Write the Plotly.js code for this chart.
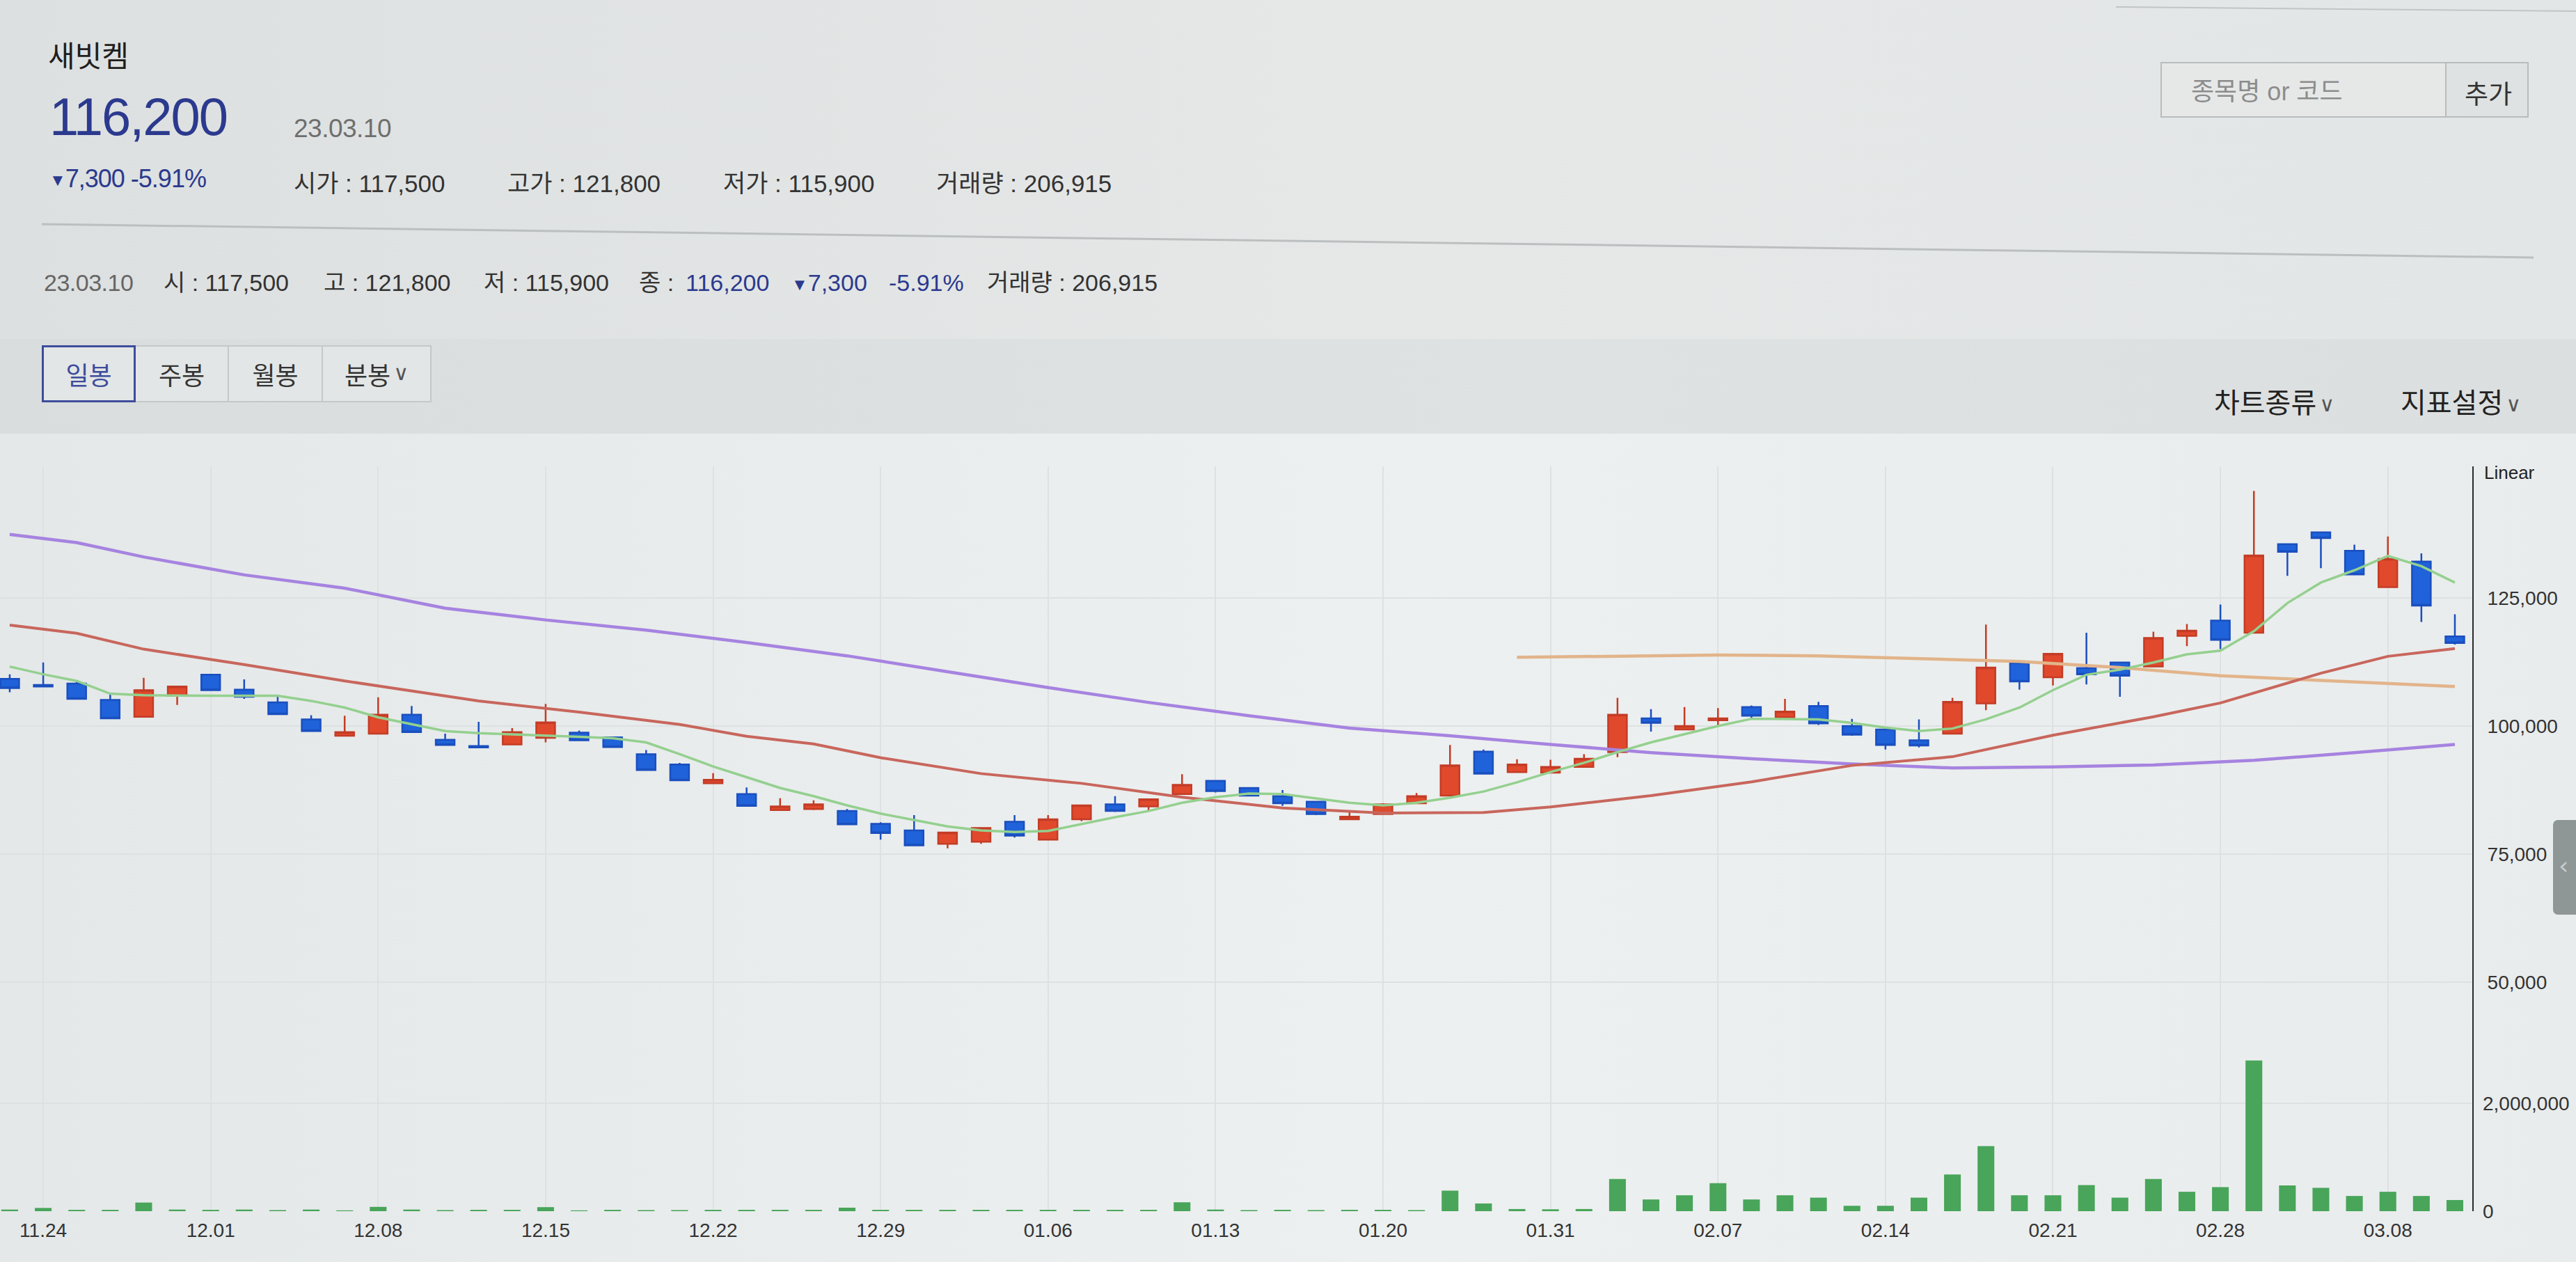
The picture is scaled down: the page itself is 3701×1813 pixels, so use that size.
<!DOCTYPE html>
<html><head><meta charset="utf-8">
<script src="https://cdn.plot.ly/plotly-3.0.1.min.js"></script>
<style>
html,body{margin:0;padding:0;width:3701px;height:1813px;overflow:hidden;
  background:linear-gradient(90deg,#dde0e0,#e6e8e8 55%,#e3e6e6);
  font-family:'Liberation Sans','Noto Sans CJK KR',sans-serif;}
.bg{position:absolute;}
.t{position:absolute;white-space:nowrap;line-height:1;}
.blue{color:#2b3a8e;}
.btn{position:absolute;top:496px;height:82px;display:flex;align-items:center;justify-content:center;
  font-size:36px;box-sizing:border-box;border:2px solid #c4c8c8;color:#333;background:#e3e6e6;font-family:'Noto Sans CJK KR',sans-serif;}
.sel{border:3px solid #3d4d9c;color:#3d4d9c;z-index:2;}
.chev{font-size:30px;margin-left:4px;font-family:'DejaVu Sans',sans-serif;color:#555;position:relative;top:-2px;}
</style></head><body>
<div class="bg" style="left:0;top:487px;width:3701px;height:136px;background:linear-gradient(90deg,#d9dddd,#dfe2e2 60%,#dcdfdf);"></div>
<div class="bg" style="left:0;top:623px;width:3701px;height:1190px;background:linear-gradient(90deg,#e4e8e8,#edf0f0 55%,#e9ecec);"></div>
<div id="chart" style="position:absolute;left:0;top:0;width:3701px;height:1813px;"></div>
<svg style="position:absolute;left:0;top:0;" width="3701" height="1813">
  <line x1="60" y1="322" x2="3640" y2="370" stroke="#bcbfbf" stroke-width="3"/>
  <line x1="3040" y1="10" x2="3701" y2="16" stroke="#c2c5c5" stroke-width="2"/>
</svg>

<div class="t" style="left:69px;top:57px;font-size:42px;color:#1e1e1e;font-family:'Noto Sans CJK KR';">새빗켐</div>
<div class="t blue" style="left:71px;top:130px;font-size:76px;letter-spacing:-2px;">116,200</div>
<div class="t" style="left:422px;top:166px;font-size:37px;color:#6f6f6f;letter-spacing:-0.5px;">23.03.10</div>
<div class="t blue" style="left:71px;top:239px;font-size:36px;letter-spacing:-1px;"><span style="font-size:24px;vertical-align:middle;">▼</span>7,300 -5.91%</div>
<div class="t" style="left:422px;top:246px;font-size:35px;color:#333;">시가 : 117,500</div>
<div class="t" style="left:729px;top:246px;font-size:35px;color:#333;">고가 : 121,800</div>
<div class="t" style="left:1039px;top:246px;font-size:35px;color:#333;">저가 : 115,900</div>
<div class="t" style="left:1345px;top:246px;font-size:35px;color:#333;">거래량 : 206,915</div>

<div class="t" style="left:63px;top:389px;font-size:34px;color:#666;letter-spacing:-0.5px;">23.03.10</div>
<div class="t" style="left:235px;top:389px;font-size:34px;color:#333;">시 : 117,500</div>
<div class="t" style="left:465px;top:389px;font-size:34px;color:#333;">고 : 121,800</div>
<div class="t" style="left:695px;top:389px;font-size:34px;color:#333;">저 : 115,900</div>
<div class="t" style="left:918px;top:389px;font-size:34px;color:#333;">종 :</div>
<div class="t blue" style="left:985px;top:389px;font-size:34px;">116,200</div>
<div class="t blue" style="left:1137px;top:389px;font-size:34px;"><span style="font-size:24px;vertical-align:middle;">▼</span>7,300</div>
<div class="t blue" style="left:1277px;top:389px;font-size:34px;">-5.91%</div>
<div class="t" style="left:1418px;top:389px;font-size:34px;color:#333;">거래량 : 206,915</div>

<div class="bg" style="left:3104px;top:89px;width:411px;height:80px;box-sizing:border-box;border:2px solid #b9bcbc;background:#e6e8e8;"></div>
<div class="bg" style="left:3513px;top:89px;width:120px;height:80px;box-sizing:border-box;border:2px solid #b9bcbc;background:#dfe2e2;"></div>
<div class="t" style="left:3148px;top:114px;font-size:36px;color:#8c8c8c;">종목명 or 코드</div>
<div class="t" style="left:3541px;top:118px;font-size:37px;color:#333;">추가</div>

<div class="btn" style="left:193px;width:136px;">주봉</div>
<div class="btn" style="left:327px;width:137px;">월봉</div>
<div class="btn" style="left:462px;width:158px;">분봉<span class="chev">∨</span></div>
<div class="btn sel" style="left:60px;width:135px;">일봉</div>

<div class="t" style="left:3181px;top:559px;font-size:40px;color:#222;">차트종류<span class="chev">∨</span></div>
<div class="t" style="left:3449px;top:559px;font-size:40px;color:#222;">지표설정<span class="chev">∨</span></div>
<div class="t" style="left:3569px;top:666px;font-size:26px;color:#222;">Linear</div>
<div class="bg" style="left:3668px;top:1178px;width:40px;height:136px;background:#8e9696;border-radius:7px 0 0 7px;"></div>
<div class="t" style="left:3676px;top:1226px;font-size:36px;color:#c9cdcd;font-family:'DejaVu Sans';">‹</div>

<script>
// trading days shown (MM.DD), 2022-11-23 .. 2023-03-10
const dates = ['11.23','11.24','11.25','11.28','11.29','11.30',
 '12.01','12.02','12.05','12.06','12.07','12.08','12.09','12.12','12.13','12.14','12.15','12.16','12.19','12.20','12.21','12.22','12.23','12.26','12.27','12.28','12.29',
 '01.02','01.03','01.04','01.05','01.06','01.09','01.10','01.11','01.12','01.13','01.16','01.17','01.18','01.19','01.20','01.25','01.26','01.27','01.30','01.31',
 '02.01','02.02','02.03','02.06','02.07','02.08','02.09','02.10','02.13','02.14','02.15','02.16','02.17','02.20','02.21','02.22','02.23','02.24','02.27','02.28',
 '03.02','03.03','03.06','03.07','03.08','03.09','03.10'];
const tickLabels = ['11.24','12.01','12.08','12.15','12.22','12.29','01.06','01.13','01.20','01.31','02.07','02.14','02.21','02.28','03.08'];

const open  = [109200,108000,108300,105100,101800,105900,110000,107100,104600,101300,98100,98500,102200,97300,96100,96400,97700,98700,97800,94500,92500,88800,86700,83600,83800,83400,80900,
 79600,77000,77400,81300,77800,81800,84700,84300,86700,89300,87900,86300,85200,81800,82800,84900,86400,95000,91000,90900,
 92000,94900,101500,99300,101100,103700,101700,103900,100000,99300,97200,98500,104400,112300,109500,111300,112400,111600,117600,120600,
 118200,135500,137800,134200,127100,132100,117500];
const high  = [110100,112400,108700,106300,109400,107700,110000,109100,106000,102100,102000,105600,103900,98500,100800,99600,104300,99100,97800,95300,92800,90800,88000,85900,85500,83800,81200,
 82600,79200,80100,82600,82600,84500,86300,85700,90600,89300,88000,87500,85400,83200,84900,86900,96300,95400,93500,93400,
 94500,105500,103300,103700,103500,104000,105300,104700,101400,99800,101300,105500,119800,112900,114100,118200,112400,118400,119900,123700,
 145900,135500,137800,135400,137000,133700,121800];
const low   = [106600,107700,105300,101500,101800,104100,107000,105300,102300,99000,98100,98500,98800,96300,95800,96400,96800,97200,95800,91400,89400,88800,84400,83600,83600,80800,77800,
 76700,76100,77000,78200,77800,81400,83200,83400,86700,87000,86300,84400,82600,81600,82800,84800,86400,90700,91000,90900,
 92000,93900,98900,99300,99900,101500,101700,100200,98100,95400,95800,98400,103100,107100,107900,108100,105700,111600,115600,115000,
 118200,129300,130800,129600,127100,120300,115900];
const close = [107400,107700,105300,101500,107000,107700,107000,105700,102300,99000,98800,102200,98800,96300,95800,98800,100700,97200,95900,91400,89400,89500,84400,84300,84700,80800,79100,
 76700,79200,80100,78600,81800,84500,83400,85700,88500,87300,86400,84900,82800,82300,84700,86300,92300,90700,92500,92000,
 93600,102200,100600,100000,101500,102000,102800,100500,98300,96300,96200,104700,111400,108700,114100,110100,109800,117200,118600,116800,
 133300,134000,136700,129600,132600,123500,116200];
const volume = [30000,60000,25000,25000,160000,30000,25000,30000,20000,30000,
 15000,80000,30000,20000,25000,25000,75000,15000,25000,20000,
 20000,25000,25000,25000,25000,65000,25000,25000,25000,25000,
 25000,25000,25000,25000,25000,165000,30000,20000,25000,20000,
 25000,25000,20000,381000,143000,40000,35000,40000,598000,217000,
 295000,520000,217000,295000,251000,100000,100000,251000,680000,1205000,
 295000,295000,485000,251000,598000,360000,446000,2795000,477000,433000,
 282000,360000,282000,206915];

// moving averages
const ma5 = [111600,110100,108800,106300,106000,105900,105900,105900,105900,104900,103600,101700,100400,99000,98600,98400,98200,97900,97600,96800,94500,92100,90000,87900,86300,84500,82900,
 81600,80400,79600,79300,79500,80900,82200,83400,85000,86100,86800,86700,85900,85000,84500,85000,86000,87200,89000,91000,
 92800,94900,96800,98400,100000,101400,101400,101300,100600,99700,99000,99500,101300,103600,107000,110000,111000,112400,114000,114700,
 118500,124000,128000,130400,133200,131200,128000];
const ma20Idx = [0,2,4,7,10,12,14,17,20,22,24,26,29,32,35,38,41,44,46,49,52,55,58,61,64,66,69,71,73];
const ma20 = [119700,118100,115000,112000,108800,106800,104900,102700,100300,98000,96500,93800,90700,88800,86100,84000,83000,83100,84200,86400,89100,92300,94000,98200,101800,104500,110300,113600,115100];
const ma60Idx = [0,2,4,7,10,13,16,19,22,25,28,31,34,37,40,43,46,49,52,55,58,61,64,67,70,73];
const ma60 = [137400,135800,133000,129500,126900,123000,120700,118700,116300,113700,110600,107500,104600,102000,99600,98100,96400,94800,93600,92600,91800,92000,92400,93300,94800,96400];
const ma120Idx = [45,48,51,54,57,60,63,66,69,71,73];
const ma120 = [113400,113700,113850,113700,113200,112600,111400,109800,108900,108300,107700];

const pick = idx => idx.map(i => dates[i]);
const FONT = 'Liberation Sans, Arial, sans-serif';

const traces = [
 {type:'bar', x:dates, y:volume, yaxis:'y2', width:0.5, marker:{color:'#48a55a', line:{width:0}}, hoverinfo:'none'},
 {type:'candlestick', x:dates, open:open, high:high, low:low, close:close, whiskerwidth:0,
  increasing:{line:{color:'#c43c26', width:2.5}, fillcolor:'#e0492c'},
  decreasing:{line:{color:'#1a4fbf', width:2.5}, fillcolor:'#1f62d9'}, hoverinfo:'none'},
 {type:'scatter', mode:'lines', x:pick(ma120Idx), y:ma120, line:{color:'#e2b48a', width:4.5}, hoverinfo:'none'},
 {type:'scatter', mode:'lines', x:pick(ma60Idx), y:ma60, line:{color:'#a683e0', width:4.5}, hoverinfo:'none'},
 {type:'scatter', mode:'lines', x:pick(ma20Idx), y:ma20, line:{color:'#c8665c', width:4}, hoverinfo:'none'},
 {type:'scatter', mode:'lines', x:dates, y:ma5, line:{color:'#94d08f', width:3.5}, hoverinfo:'none'}
];

const GRID = '#dde1e1';
const layout = {
 width:3701, height:1813,
 margin:{l:0, r:149, t:670, b:73, pad:0},
 paper_bgcolor:'rgba(0,0,0,0)', plot_bgcolor:'rgba(0,0,0,0)',
 showlegend:false, boxgap:0.2, bargap:0.5,
 font:{family:FONT, size:28, color:'#333'},
 xaxis:{type:'category', categoryorder:'array', categoryarray:dates, range:[-0.29,73.52],
   tickvals:tickLabels, ticktext:tickLabels, ticks:'', showgrid:true, gridcolor:GRID, gridwidth:2,
   zeroline:false, showline:false, rangeslider:{visible:false}, ticklabelstandoff:8,
   tickfont:{family:FONT, size:28, color:'#333'}},
 yaxis:{side:'right', range:[5272,150685], tickvals:[50000,75000,100000,125000], tickformat:',d',
   showgrid:true, gridcolor:GRID, gridwidth:2, zeroline:false,
   showline:true, linecolor:'#2a2a2a', linewidth:2, ticks:'', ticklabelstandoff:14,
   tickfont:{family:FONT, size:28, color:'#333'}},
 yaxis2:{overlaying:'y', side:'right', range:[0,13806000], tickvals:[0,2000000], tickformat:',d',
   showgrid:true, gridcolor:GRID, gridwidth:2, zeroline:false, showline:false, ticks:'', ticklabelstandoff:14,
   tickfont:{family:FONT, size:28, color:'#333'}}
};

Plotly.newPlot('chart', traces, layout, {staticPlot:true, displayModeBar:false});
</script>
</body></html>
